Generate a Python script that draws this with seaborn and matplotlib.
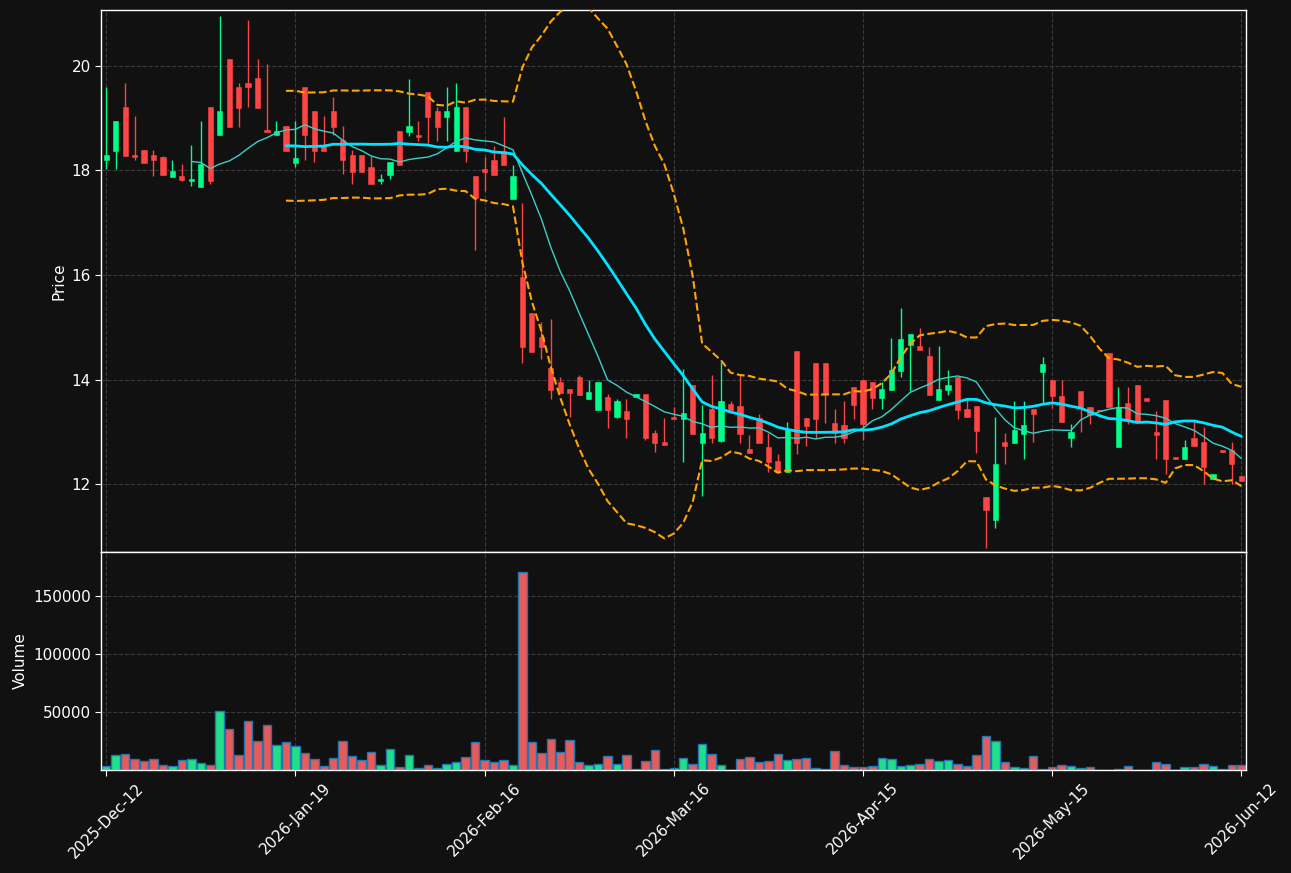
import seaborn as sns
import matplotlib
matplotlib.use("Agg")
import matplotlib.pyplot as plt
import pandas as pd
import numpy as np

# =============================================================================
# Data
# =============================================================================

tick_labels = ["2025-Dec-12", "2026-Jan-19", "2026-Feb-16", "2026-Mar-16",
               "2026-Apr-15", "2026-May-15", "2026-Jun-12"]

opens = [18.21, 18.38, 19.22, 18.30, 18.39, 18.30, 18.26, 17.88, 17.90, 17.79,
         17.69, 19.22, 18.67, 20.13, 19.60, 19.68, 19.77, 18.77, 18.67, 18.85,
         18.15, 19.60, 19.14, 18.48, 19.14, 18.58, 18.30, 18.30, 18.07, 17.79,
         17.92, 18.76, 18.74, 18.68, 19.50, 19.14, 19.03, 18.38, 19.22, 17.89,
         18.03, 18.21, 18.38, 17.46, 15.96, 15.27, 14.82, 14.22, 13.95, 13.82,
         14.05, 13.62, 13.42, 13.67, 13.29, 13.39, 13.67, 13.72, 12.98, 12.80,
         13.28, 13.25, 13.89, 12.78, 13.43, 12.82, 13.53, 13.49, 12.67, 13.26,
         12.71, 12.44, 12.24, 14.54, 13.26, 14.31, 14.31, 13.16, 13.13, 13.85,
         13.99, 13.95, 13.65, 13.80, 14.17, 14.66, 14.64, 14.45, 13.61, 13.80,
         14.04, 13.43, 13.49, 11.75, 11.31, 12.80, 12.79, 12.96, 13.43, 14.15,
         14.00, 13.69, 12.89, 13.79, 13.48, 13.42, 14.50, 12.70, 13.55, 13.89,
         13.64, 12.99, 13.61, 12.51, 12.48, 12.89, 12.80, 12.09, 12.66, 12.65,
         12.15]
highs = [19.59, 18.95, 19.68, 19.04, 18.39, 18.39, 18.28, 18.21, 18.12, 18.49,
         18.95, 19.22, 20.96, 20.13, 19.67, 20.88, 20.13, 20.04, 18.95, 18.85,
         18.95, 19.60, 19.14, 19.04, 19.41, 18.85, 18.39, 18.30, 18.28, 17.93,
         18.16, 18.76, 19.76, 18.95, 19.50, 19.21, 19.59, 19.68, 19.22, 17.89,
         18.25, 18.47, 19.03, 18.11, 17.38, 15.27, 15.10, 15.15, 14.05, 13.82,
         14.09, 13.99, 13.95, 13.72, 13.62, 13.62, 13.72, 13.72, 13.04, 13.26,
         13.48, 14.21, 13.89, 13.52, 14.08, 14.34, 13.59, 14.08, 12.94, 13.35,
         12.97, 12.57, 13.19, 14.54, 13.26, 14.31, 14.31, 13.43, 13.59, 13.85,
         13.99, 13.95, 13.95, 14.80, 15.36, 14.87, 14.99, 14.62, 14.64, 14.18,
         14.04, 13.62, 13.49, 11.75, 13.29, 12.97, 13.58, 13.58, 13.43, 14.43,
         14.00, 14.00, 13.14, 13.79, 13.48, 13.42, 14.50, 13.85, 13.85, 13.89,
         13.64, 13.40, 13.61, 12.51, 12.84, 13.22, 13.10, 12.19, 12.66, 12.80,
         12.15]
lows = [18.02, 18.02, 18.28, 18.21, 18.15, 17.89, 17.92, 17.88, 17.79, 17.70,
        17.69, 17.75, 18.67, 18.84, 18.84, 19.22, 19.20, 18.74, 18.67, 18.38,
        18.06, 18.21, 18.16, 18.38, 18.67, 17.93, 17.75, 17.98, 17.75, 17.75,
        17.83, 18.10, 18.66, 18.57, 18.52, 18.57, 18.57, 18.38, 18.16, 16.48,
        17.60, 17.91, 18.11, 17.46, 14.31, 14.53, 14.40, 13.62, 13.75, 13.29,
        13.71, 13.62, 13.42, 13.07, 13.26, 12.89, 13.67, 12.84, 12.61, 12.74,
        13.25, 12.43, 12.96, 11.78, 12.79, 12.80, 13.41, 12.79, 12.59, 12.79,
        12.24, 12.24, 12.24, 12.57, 12.73, 12.89, 13.16, 12.79, 12.79, 13.25,
        12.84, 13.43, 13.43, 13.80, 14.04, 13.78, 14.56, 13.70, 13.61, 13.71,
        13.25, 13.28, 12.60, 10.77, 11.15, 12.38, 12.79, 12.47, 12.80, 13.54,
        13.45, 13.19, 12.70, 12.99, 13.14, 13.39, 13.48, 12.70, 13.14, 13.19,
        13.59, 12.48, 12.19, 12.47, 12.48, 12.73, 12.00, 12.09, 12.62, 12.00,
        12.05]
closes = [18.30, 18.95, 18.28, 18.26, 18.15, 18.21, 17.92, 17.99, 17.82, 17.84,
          18.12, 17.79, 19.14, 18.84, 19.20, 19.59, 19.20, 18.74, 18.76, 18.38,
          18.23, 18.67, 18.38, 18.38, 18.83, 18.21, 17.98, 17.98, 17.75, 17.84,
          18.16, 18.11, 18.85, 18.65, 19.03, 18.84, 19.14, 19.22, 18.38, 17.47,
          17.97, 17.91, 18.11, 17.89, 14.63, 14.53, 14.62, 13.80, 13.75, 13.75,
          13.71, 13.76, 13.95, 13.42, 13.59, 13.25, 13.72, 12.89, 12.79, 12.74,
          13.25, 13.36, 12.96, 12.98, 12.88, 13.59, 13.41, 12.96, 12.59, 12.79,
          12.43, 12.24, 13.05, 12.79, 13.12, 13.25, 13.73, 12.97, 12.89, 13.51,
          13.15, 13.65, 13.82, 14.18, 14.77, 14.87, 14.56, 13.70, 13.82, 13.89,
          13.42, 13.28, 13.02, 11.50, 12.38, 12.73, 13.03, 13.13, 13.34, 14.29,
          13.69, 13.19, 12.99, 13.48, 13.33, 13.39, 13.48, 13.48, 13.22, 13.19,
          13.59, 12.94, 12.48, 12.47, 12.70, 12.73, 12.33, 12.19, 12.62, 12.39,
          12.05]
volumes = [3700, 12600, 13500, 9200, 7500, 9200, 4000, 3200, 8300, 9200,
           5700, 4000, 50600, 35100, 12600, 42000, 24700, 38500, 21300, 23900,
           20400, 14400, 9200, 3200, 10100, 24700, 11800, 8300, 15200, 4000,
           17800, 2300, 12600, 1400, 4000, 1400, 4900, 6600, 10900, 23900,
           8300, 7200, 8300, 4000, 170500, 23900, 14400, 26400, 15200, 25600,
           6600, 4000, 4900, 11800, 4900, 12600, 600, 7500, 17000, 600,
           1400, 10100, 4900, 22100, 13500, 4000, 200, 9200, 10900, 6600,
           7500, 13500, 8300, 9200, 10100, 1400, 600, 16100, 4000, 2300,
           2300, 3200, 10100, 9200, 3200, 4000, 4900, 9200, 7500, 8300,
           4900, 3200, 12600, 29000, 24700, 6600, 2300, 1400, 11800, 600,
           2300, 4000, 3200, 1400, 2300, 100, 100, 600, 3200, 100,
           100, 6600, 4900, 100, 2300, 2300, 4900, 3200, 600, 4000,
           4000]

# =============================================================================
# Main
# =============================================================================

if __name__ == "__main__":

    BG = "#111111"
    UP = "#00ff88"
    DOWN = "#ff4444"

    sns.set_style("dark", {"axes.facecolor": BG, "figure.facecolor": BG})
    plt.rcParams["font.family"] = ["DejaVu Sans"]

    df = pd.DataFrame({"open": opens, "high": highs, "low": lows,
                       "close": closes, "volume": volumes})
    df["idx"] = np.arange(len(df))
    df["dir"] = np.where(df["close"] >= df["open"], "up", "down")
    df["ma10"] = df["close"].rolling(10).mean()
    df["ma20"] = df["close"].rolling(20).mean()
    std20 = df["close"].rolling(20).std(ddof=0)
    df["bb_up"] = df["ma20"] + 2 * std20
    df["bb_lo"] = df["ma20"] - 2 * std20

    fig = plt.figure(figsize=(12.91, 8.73), dpi=100, facecolor=BG)
    gs = fig.add_gridspec(2, 1, height_ratios=[542, 218], hspace=0,
                          left=0.0786, right=0.9652, top=0.9885, bottom=0.118)
    ax = fig.add_subplot(gs[0])
    ax_vol = fig.add_subplot(gs[1], sharex=ax)

    # candles
    colors = np.where(df["dir"] == "up", UP, DOWN)
    ax.vlines(df["idx"], df["low"], df["high"], colors=colors, linewidth=1, zorder=2)
    ax.bar(df["idx"], df["close"] - df["open"], bottom=df["open"], width=0.55,
           color=colors, edgecolor=colors, linewidth=0.4, zorder=3)

    # moving averages and bands
    sns.lineplot(data=df, x="idx", y="ma10", color="#3ccfc6", linewidth=1, ax=ax, zorder=4)
    sns.lineplot(data=df, x="idx", y="ma20", color="#00e5ff", linewidth=2, ax=ax, zorder=4)
    sns.lineplot(data=df, x="idx", y="bb_up", color="#ffa500", linewidth=1.5,
                 linestyle="--", ax=ax, zorder=4)
    sns.lineplot(data=df, x="idx", y="bb_lo", color="#ffa500", linewidth=1.5,
                 linestyle="--", ax=ax, zorder=4)

    # volume
    sns.barplot(data=df, x="idx", y="volume", hue="dir",
                palette={"up": UP, "down": DOWN}, native_scale=True, dodge=False,
                width=0.9, edgecolor="#1f77b4", linewidth=1, errorbar=None,
                legend=False, ax=ax_vol)

    tick_pos = np.arange(0, len(df), 20)
    for a in (ax, ax_vol):
        a.set_facecolor(BG)
        a.grid(True, color="#3a3a3a", linestyle="--", linewidth=0.8)
        a.set_axisbelow(True)
        for s in a.spines.values():
            s.set_color("white")
            s.set_linewidth(1)
        a.tick_params(colors="white", labelsize=11, length=4, left=True, bottom=True)

    ax.set_xlim(-0.5, len(df) - 0.5)
    ax.set_ylim(10.70, 21.07)
    ax.set_yticks([12, 14, 16, 18, 20])
    ax.set_xlabel("")
    ax.set_ylabel("Price", color="white", fontsize=11)
    ax.tick_params(axis="x", labelbottom=False, bottom=False)

    ax_vol.set_ylim(0, max(volumes) * 1.1)
    ax_vol.set_yticks([50000, 100000, 150000])
    ax_vol.set_xticks(tick_pos)
    ax_vol.set_xticklabels(tick_labels, rotation=45)
    ax_vol.set_xlim(-0.5, len(df) - 0.5)
    ax_vol.set_xlabel("")
    ax_vol.set_ylabel("Volume", color="white", fontsize=11)

    fig.savefig("out.png", dpi=100, facecolor=BG)
